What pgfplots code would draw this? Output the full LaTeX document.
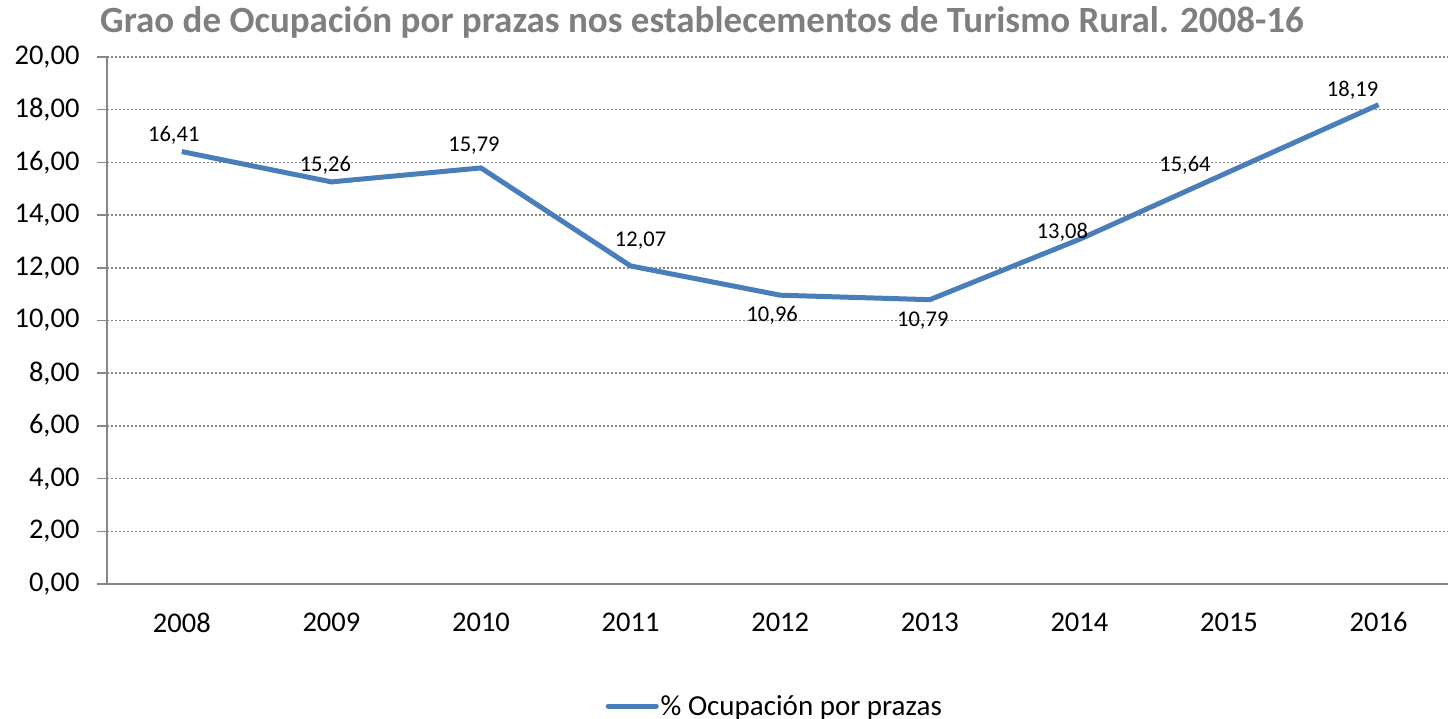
\documentclass[border=0pt]{standalone}
\usepackage{pgfplots}
\pgfplotsset{compat=1.18}
\usepackage{pgfplotstable}
\usepackage{fontspec}
\setmainfont{Carlito}
\definecolor{lineblue}{RGB}{74,126,187}
\definecolor{axisgray}{RGB}{134,134,134}
\definecolor{titlegray}{RGB}{127,127,127}
\pgfplotstableread{
x y lab dx dy
0 16.41 16,41 -8 16
1 15.26 15,26 -6 17
2 15.79 15,79 -7 22
3 12.07 12,07 10 25
4 10.96 10,96 -8 -20
5 10.79 10,79 -7 -21
6 13.08 13,08 -17 7
7 15.64 15,64 -44 7
8 18.19 18,19 -26 14
}\datatable
\begin{document}
\begin{tikzpicture}[x=1pt,y=1pt]
\useasboundingbox (-107,-135) rectangle (1341,584);
\begin{axis}[
  at={(0,0)}, anchor=south west,
  scale only axis, width=1341pt, height=527pt,
  xmin=-0.5, xmax=8.464, ymin=0, ymax=20,
  ytick={0,2,...,20},
  xtick={0,...,8},
  xticklabels={2008,2009,2010,2011,2012,2013,2014,2015,2016},
  xtick style={draw=none},
  extra x ticks={-0.5,0.5,...,7.5},
  extra x tick labels={},
  extra x tick style={xtick style={axisgray, line width=1.5pt}, grid=none},
  axis x line*=bottom, axis y line*=left,
  axis line style={axisgray, line width=2pt, -},
  tick align=outside, major tick length=10pt,
  ytick style={axisgray, line width=1.5pt},
  ymajorgrids,
  grid style={axisgray, line width=1.5pt, dash pattern=on 2pt off 2pt},
  /pgf/number format/.cd, fixed, fixed zerofill, precision=2, use comma, assume math mode=true,
  /pgfplots/.cd,
  ticklabel style={font=\fontsize{28.5}{33}\selectfont, text=black},
  yticklabel style={xshift=-14pt},
  xticklabel style={yshift=-15pt},
  legend style={at={(axis description cs:0.498,-0.2315)}, anchor=center, draw=none, fill=none,
    font=\fontsize{29}{33}\selectfont, inner sep=0pt},
  legend image code/.code={\draw[lineblue, line width=5pt, line cap=round] (0pt,0pt) -- (48pt,0pt);},
]
\addplot[lineblue, line width=5pt, line join=round,
  nodes near coords, point meta=explicit symbolic,
  visualization depends on={\thisrow{dx} \as \dx},
  visualization depends on={\thisrow{dy} \as \dy},
  every node near coord/.append style={anchor=center, xshift=\dx pt, yshift=\dy pt,
    font=\fontsize{22.5}{26}\selectfont, text=black}
] table[x=x, y=y, meta=lab] {\datatable};
\addlegendentry{\% Ocupación por prazas}
\end{axis}
\node[font=\bfseries\fontsize{37}{42}\selectfont, text=titlegray] at (595,562) {Grao de Ocupación por prazas nos establecementos de Turismo Rural. 2008-16};
\end{tikzpicture}
\end{document}
